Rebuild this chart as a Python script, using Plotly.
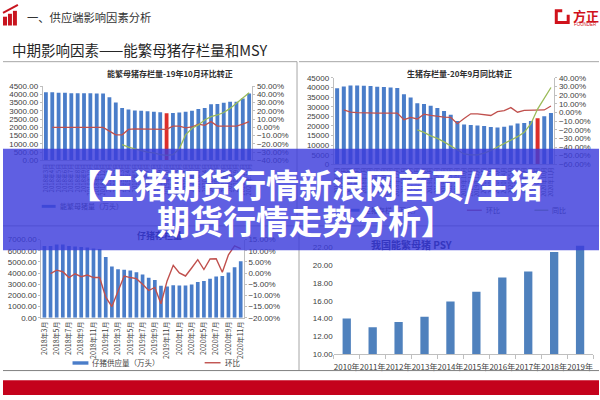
import plotly.graph_objects as go

# ---------------- data ----------------
months = ["2018年3月", "2018年4月", "2018年5月", "2018年6月", "2018年7月", "2018年8月",
          "2018年9月", "2018年10月", "2018年11月", "2018年12月",
          "2019年1月", "2019年2月", "2019年3月", "2019年4月", "2019年5月", "2019年6月",
          "2019年7月", "2019年8月", "2019年9月", "2019年10月", "2019年11月", "2019年12月",
          "2020年1月", "2020年2月", "2020年3月", "2020年4月", "2020年5月", "2020年6月",
          "2020年7月", "2020年8月", "2020年9月", "2020年10月", "2020年11月"]

# 能繁母猪存栏量 (万头) and 环比 / 同比 (%)
sows = [4130, 4130, 4100, 4100, 4070, 4070, 4070, 4060, 4050, 4050,
        3820, 3500, 3170, 3080, 3030, 3000, 2980, 2950, 2920, 2850,
        2870, 2900, 2950, 3000, 3120, 3180, 3400, 3420, 3490, 3550,
        3560, 3750, 4050]
sows_mom = [None, 0, 0, 0, 0, 0, 0, 0, 0, 0,
            -4.5, -9, -9, -2.5, -1.7, -1.7, -1.7, -1.7, -1.7, -2.5,
            1.5, 1.5, -0.5, 0.5, 4, 2.5, 7, 1.5, 1.5, 1.5,
            1.5, 4, 7]
sows_yoy = [None, None, None, None, None, None, None, None, None, None,
            None, None, -21, -24, -26, -28, -30, -31, -33, -34,
            -33, -26, -9, -1, 3, 9, 13, 15, 18, 23,
            29, 35, 42]

# 生猪存栏量 (万头)
hogs = [39700, 40600, 41100, 41100, 40900, 40800, 40500, 40300, 40000, 39800,
        36500, 34800, 31900, 31500, 30500, 29300, 27800, 25900, 22600, 20700,
        20500, 20200, 20000, 19500, 19200, 19600, 20200, 21300, 21600, 22600,
        24000, 25000, 26700]
hogs_mom = [None, 3, 0.4, 0, -0.5, -0.7, -0.7, -0.7, -0.7, -0.7,
            -8.3, -5.7, -7.5, -1.9, -3.4, -4.5, -5.3, -5.7, -13, -7,
            -1.5, -1.5, -2.5, -3.4, 1, 2.3, 5.7, 0.4, 2.6, 2.6,
            2.6, 3, 7.5]
hogs_yoy = [None, None, None, None, None, None, None, None, None, None,
            None, None, -20, -23, -27, -30, -34, -39, -44, -48,
            -49, -49, -47, -44, -40, -36, -32, -28, -23, -13,
            4, 17, 29]

# 仔猪供应量 (万头)
piglets = [6416, 6416, 6560, 6560, 6420, 6390, 6330, 6300, 6210, 6150,
           5450, 4600, 4340, 4290, 4230, 4080, 3880, 3590, 3380, 2860,
           2800, 2920, 2890, 2890, 2980, 3210, 3300, 3500, 3700, 3730,
           4050, 4520, 5050]
piglets_mom = [None, -0.2, 1.3, 0.6, -2, -0.3, -1.6, -0.9, -2, -2,
               -10.8, -15, -8, -1.3, -2, -2.5, -5, -7.8, -6.4, -13.7,
               -3.5, 3.5, 0.1, -1.3, 2.3, 6, 1.6, 6.3, 6.4, 0.4,
               8.2, 12.2, 11]

# 我国能繁母猪 PSY
psy_years = ["2010年", "2011年", "2012年", "2013年", "2014年",
             "2015年", "2016年", "2017年", "2018年", "2019年"]
psy = [14.0, 13.0, 13.6, 14.2, 15.9, 17.0, 18.6, 19.3, 21.5, 22.2]

# ---------------- styling helpers ----------------
W, H = 600, 400


def px(x):
    return x / W


def py(y):
    return 1 - y / H


BLUE = "#4a7dc9"
RED_BAR = "#dc2f2a"
RED_LINE = "#c0504d"
GREEN = "#9bbb59"
AXIS = "#bfbfbf"
TXT = "#404040"
CJK = "Noto Sans CJK SC"
NUM = "Liberation Sans, Arial, sans-serif"

BAN_RGB = (60, 60, 220)
BAN_A = 0.82


def under_banner(hexcol):
    hexcol = hexcol.lstrip("#")
    r, g, b = (int(hexcol[i:i + 2], 16) for i in (0, 2, 4))
    m = [round(BAN_A * c + (1 - BAN_A) * u) for c, u in zip(BAN_RGB, (r, g, b))]
    return "rgb(%d,%d,%d)" % tuple(m)


fig = go.Figure()

# --- top-left: 能繁母猪存栏量
fig.add_trace(go.Bar(x=months, y=sows, width=0.6,
                     marker=dict(color=[RED_BAR if m == "2019年10月" else BLUE for m in months], line_width=0),
                     xaxis="x", yaxis="y"))
fig.add_trace(go.Scatter(x=months, y=sows_mom, mode="lines", line=dict(color=RED_LINE, width=1.3),
                         xaxis="x", yaxis="y2"))
fig.add_trace(go.Scatter(x=months, y=sows_yoy, mode="lines", line=dict(color=GREEN, width=1.3),
                         xaxis="x", yaxis="y2"))

# --- top-right: 生猪存栏量
fig.add_trace(go.Bar(x=months, y=hogs, width=0.6,
                     marker=dict(color=[RED_BAR if m == "2020年9月" else BLUE for m in months], line_width=0),
                     xaxis="x2", yaxis="y3"))
fig.add_trace(go.Scatter(x=months, y=hogs_mom, mode="lines", line=dict(color=RED_LINE, width=1.3),
                         xaxis="x2", yaxis="y4"))
fig.add_trace(go.Scatter(x=months, y=hogs_yoy, mode="lines", line=dict(color=GREEN, width=1.3),
                         xaxis="x2", yaxis="y4"))

# --- bottom-left: 仔猪供应量
fig.add_trace(go.Bar(x=months, y=piglets, width=0.6, marker=dict(color=BLUE, line_width=0),
                     xaxis="x3", yaxis="y5"))
fig.add_trace(go.Scatter(x=months, y=piglets_mom, mode="lines", line=dict(color=RED_LINE, width=1.4),
                         xaxis="x3", yaxis="y6"))

# --- bottom-right: PSY
fig.add_trace(go.Bar(x=psy_years, y=psy, width=0.32, marker=dict(color="#4f81bd", line_width=0),
                     xaxis="x4", yaxis="y7"))


def xax(domain, anchor, vals, size, angle, showline=True, ticks=""):
    return dict(domain=domain, anchor=anchor, type="category", tickmode="array",
                tickvals=vals, ticktext=vals, tickangle=angle,
                tickfont=dict(family=CJK, size=size, color=TXT),
                showgrid=False, zeroline=False, showline=showline, linecolor=AXIS,
                ticks=ticks, ticklen=3, tickcolor=AXIS, fixedrange=True)


def yax(anchor, rng, dtick, fmt, domain=None, side="left", overlaying=None,
        suffix="", showline=True, tick0=0, size=8):
    d = dict(anchor=anchor, range=rng, dtick=dtick, tick0=tick0, tickformat=fmt,
             ticksuffix=suffix, side=side, showgrid=False, zeroline=False,
             showline=showline, linecolor=AXIS, ticks="outside" if showline else "",
             ticklen=2, tickcolor=AXIS, tickfont=dict(family=NUM, size=size, color=TXT),
             fixedrange=True)
    if domain is not None:
        d["domain"] = domain
    if overlaying:
        d["overlaying"] = overlaying
    return d


layout = dict(
    width=W, height=H, margin=dict(l=0, r=0, t=0, b=0),
    paper_bgcolor="white", plot_bgcolor="rgba(0,0,0,0)", showlegend=False,
    xaxis=xax([px(40), px(251)], "y", months, 6, -90),
    yaxis=yax("x", [0, 4500], 500, ".2f", domain=[py(160), py(84)]),
    yaxis2=yax("x", [-40, 50], 10, ".2f", side="right", overlaying="y", suffix="%"),
    xaxis2=xax([px(333), px(555)], "y3", months, 5.5, -90),
    yaxis3=yax("x2", [0, 45000], 5000, "d", domain=[py(164), py(75.7)]),
    yaxis4=yax("x2", [-60, 40], 10, ".2f", side="right", overlaying="y3", suffix="%"),
    xaxis3=xax([px(38.6), px(242.4)], "y5", months[0::2], 7, -90),
    yaxis5=yax("x3", [0, 7000], 1000, ".2f", domain=[py(321), py(241)]),
    yaxis6=yax("x3", [-20, 15], 5, ".2f", side="right", overlaying="y5", suffix="%"),
    xaxis4=xax([px(333), px(594)], "y7", psy_years, 8, 0, ticks="outside"),
    yaxis7=yax("x4", [10, 22.5], 2, ".2f", domain=[py(358), py(244.5)], showline=False, tick0=10),
)
layout["xaxis4"]["tickson"] = "boundaries"
layout["xaxis4"]["ticklen"] = 4
layout["xaxis4"]["ticklabelstandoff"] = 5

shapes = []
ann = []


def line(x0, y0, x1, y1, color="#a6a6a6", width=1):
    shapes.append(dict(type="line", xref="paper", yref="paper", x0=px(x0), y0=py(y0),
                       x1=px(x1), y1=py(y1), line=dict(color=color, width=width), layer="above"))


def rect(x0, y0, x1, y1, color, layer="above"):
    shapes.append(dict(type="rect", xref="paper", yref="paper", x0=px(x0), y0=py(y1),
                       x1=px(x1), y1=py(y0), fillcolor=color, line_width=0, layer=layer))


def text(x, y, s, size, color=TXT, anchor="left", family=CJK, bold=False):
    ann.append(dict(xref="paper", yref="paper", x=px(x), y=py(y), text=("<b>%s</b>" % s) if bold else s,
                    showarrow=False, xanchor=anchor, yanchor="middle",
                    font=dict(family=family, size=size, color=color)))


# header icon
rect(0, 13, 4, 22, "#c8141e")
rect(5, 10, 9, 22, "#c8141e")
rect(10, 7, 14, 22, "#c8141e")
line(0, 9, 15, 1, "#c8141e", 2)
text(22, 13, "一、供应端影响因素分析", 11.3, "#333333")
# logo
shapes.append(dict(type="rect", xref="paper", yref="paper", x0=px(557), y0=py(19), x1=px(569), y1=py(7),
                   line=dict(color="#d0121b", width=3), fillcolor="white", layer="above"))
rect(563, 5, 571, 11, "white")
text(572, 12, "<b>方正</b>", 13, "#d0121b")
text(573, 21, "FOUNDER", 4.5, "#d0121b", family=NUM)

# slide title
text(7, 47, "中期影响因素——能繁母猪存栏量和MSY", 14.5, "#262626")

# panel frames
line(0, 59, 296, 59)
line(298, 59, 600, 59)
line(296, 59, 296, 227)
line(0, 227, 600, 227)
line(298, 230, 298, 375)
line(0, 375, 600, 375, "#808080")

# chart titles (top)
text(168, 71, "能繁母猪存栏量-19年10月环比转正", 8, "#303030", anchor="center", bold=True)
text(460, 71, "生猪存栏量-20年9月同比转正", 8, "#303030", anchor="center", bold=True)

# legends under the banner (swatches drawn before banner so they get covered)
rect(39, 205.5, 53, 208.5, BLUE)
text(55, 207, "能繁母猪量（万头）", 7, under_banner(TXT))
rect(345, 209.5, 359, 212.5, BLUE)
text(361, 211, "生猪存栏（万头）", 7, under_banner(TXT))
line(467, 211, 482, 211, RED_LINE, 1.3)
text(484, 211, "环比", 7, under_banner(TXT))
line(535, 211, 549, 211, GREEN, 1.3)
text(551, 211, "同比", 7, under_banner(TXT))

# lower titles (partly under banner)
text(133, 237, "仔猪存栏量", 9, under_banner("#101840"), bold=True)
text(368, 246, "我国能繁母猪 PSY", 10, under_banner("#101840"), bold=True)

# lower-left legend
rect(70, 365.5, 86, 369, BLUE)
text(88, 367, "仔猪供应量（万头）", 7.5)
line(203, 367, 219, 367, RED_LINE, 1.4)
text(221, 367, "环比", 7.5)

# bottom red band
rect(0, 385, 600, 400, "#c4021c")

# banner overlay
rect(0, 148, 600, 252, "rgba(%d,%d,%d,%.2f)" % (BAN_RGB + (BAN_A,)))
text(305, 184, "<b>【生猪期货行情新浪网首页/生猪</b>", 33, "white", anchor="center")
text(305, 221, "<b>期货行情走势分析】</b>", 33, "white", anchor="center")

layout["shapes"] = shapes
layout["annotations"] = ann
fig.update_layout(**layout)

fig.write_html("out.html", config={"displayModeBar": False})
